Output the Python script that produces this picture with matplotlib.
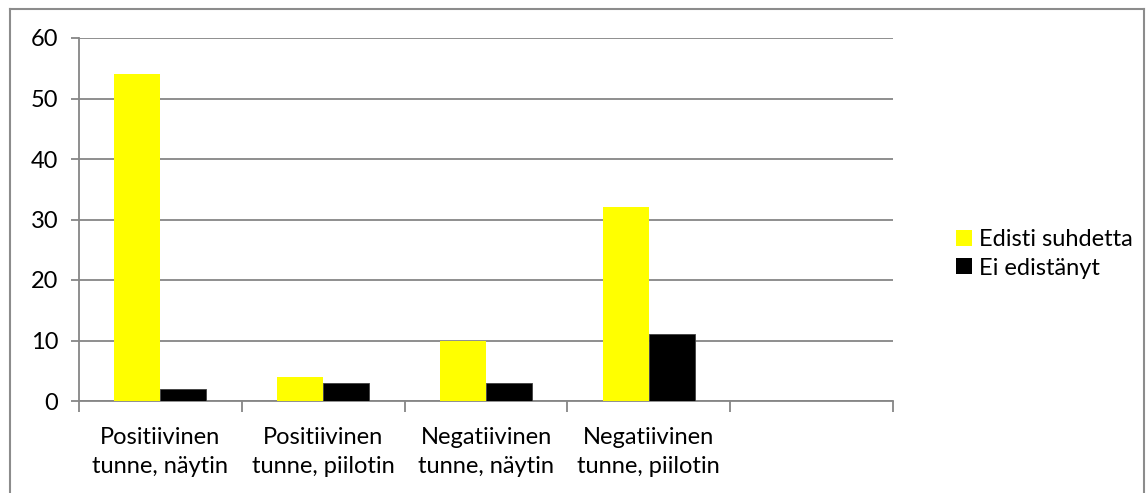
import numpy as np
import matplotlib.pyplot as plt
from matplotlib.lines import Line2D
from matplotlib.patches import Patch

plt.rcParams['font.family'] = ['Lato', 'DejaVu Sans']

# chart data
categories = ['Positiivinen\ntunne, näytin', 'Positiivinen\ntunne, piilotin',
              'Negatiivinen\ntunne, näytin', 'Negatiivinen\ntunne, piilotin', '']
edisti = [54, 4, 10, 32]
ei_edistanyt = [2, 3, 3, 11]
series_names = ['Edisti suhdetta', 'Ei edistänyt']
yticks = [0, 10, 20, 30, 40, 50, 60]

fig = plt.figure(figsize=(11.47, 4.93), dpi=100)
ax = fig.add_axes([79/1147, 1 - 401/493, (893 - 79)/1147, (401 - 38)/493])

fs = 17
grid_col = '#868686'
w = 0.283
x = np.arange(len(edisti))
ax.bar(x - w/2, edisti, width=w, color='#ffff00', zorder=3)
ax.bar(x + w/2, ei_edistanyt, width=w, color='black', edgecolor='#404040',
       linewidth=0.6, zorder=3)

ax.set_xlim(-0.5, len(categories) - 0.5)
ax.set_ylim(0, 60)
ax.set_yticks(yticks)
ax.yaxis.grid(True, color=grid_col, linewidth=1.3, zorder=0)

# category labels between the boundary ticks
ax.set_xticks(np.arange(len(categories) + 1) - 0.5)
ax.set_xticklabels([])
ax.tick_params(axis='x', length=8, width=1.3, color=grid_col)
ax.tick_params(axis='y', length=6, width=1.3, color=grid_col, labelsize=fs, pad=9)
for i, lab in enumerate(categories):
    ax.text(i, -4.3, lab, ha='center', va='top', fontsize=fs,
            linespacing=1.45, transform=ax.transData)

for s in ['top', 'right']:
    ax.spines[s].set_visible(False)
for s in ['left', 'bottom']:
    ax.spines[s].set_color(grid_col)
    ax.spines[s].set_linewidth(1.3)

handles = [Patch(facecolor='#ffff00'), Patch(facecolor='black')]
fig.legend(handles, series_names, loc='center left', bbox_to_anchor=(935/1147, 1 - 254/493),
           frameon=False, fontsize=fs, handlelength=0.65, handleheight=0.65,
           handletextpad=0.3, labelspacing=0.3)

# outer chart border
bc = '#8c8c8c'
fig.add_artist(Line2D([10/1147, 10/1147], [0, 1 - 9/493], color=bc, lw=1.5))
fig.add_artist(Line2D([10/1147, 1144/1147], [1 - 9/493, 1 - 9/493], color=bc, lw=1.5))
fig.add_artist(Line2D([1144/1147, 1144/1147], [0, 1 - 9/493], color=bc, lw=1.5))

fig.savefig('out.png', dpi=100)
